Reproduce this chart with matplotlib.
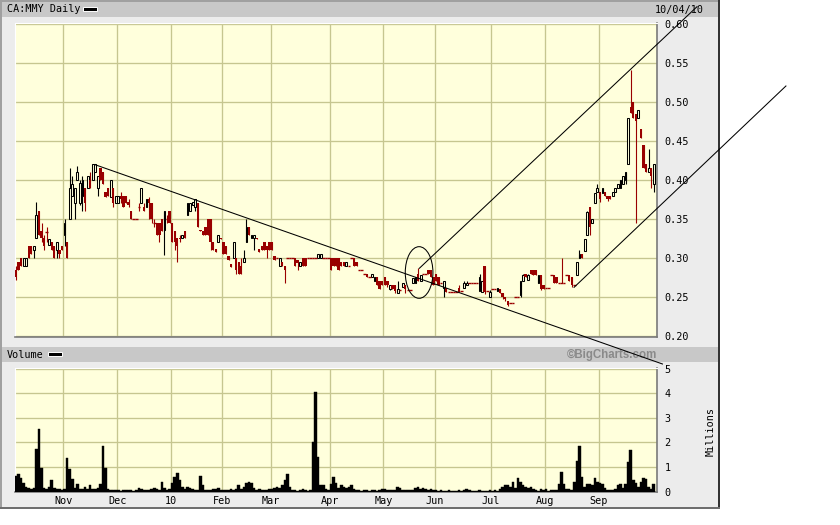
import numpy as np
import pandas as pd
import matplotlib
matplotlib.use('Agg')
import matplotlib.pyplot as plt
from matplotlib.patches import Rectangle, Ellipse

# TSX trading days shown on the chart
holidays = ['2009-10-12', '2009-12-25', '2009-12-28', '2010-01-01', '2010-02-15',
            '2010-04-02', '2010-05-24', '2010-07-01', '2010-08-02', '2010-09-06']
dates = pd.bdate_range('2009-10-05', '2010-10-01')
dates = dates[~dates.isin(pd.to_datetime(holidays))]

month_labels = ['Nov', 'Dec', '10', 'Feb', 'Mar', 'Apr', 'May', 'Jun', 'Jul', 'Aug', 'Sep']
price_ticks = [0.20, 0.25, 0.30, 0.35, 0.40, 0.45, 0.50, 0.55, 0.60]
vol_ticks = [0, 1, 2, 3, 4, 5]

# daily prices (CAD), one line per month
opens = [
    .285, .295, .30, .29, .29, .315, .315, .31, .325, .36, .335, .325, .333, .317, .32, .315, .31, .31, .315,
    .33, .32, .35, .38, .37, .40, .37, .38, .39, .39, .40, .40, .41, .39, .415, .41, .385, .39, .378, .39, .37,
    .37, .38, .38, .38, .372, .36, .35, .35, .365, .37, .365, .365, .375, .37, .345, .345, .345, .35, .336, .35, .36,
    .345, .335, .325, .326, .325, .335, .355, .36, .368, .365, .37, .336, .335, .34, .35, .35, .32, .312, .32, .326,
    .32, .315, .302, .292, .30, .30, .295, .29, .295, .32, .34, .325, .325, .326, .312, .315, .32, .315, .32,
    .32, .302, .30, .29, .295, .29, .30, .30, .30, .30, .297, .29, .30, .30, .30, .30, .30, .30, .30, .30, .30, .30, .30,
    .30, .30, .30, .30, .295, .295, .29, .29, .30, .30, .295, .285, .285, .28, .28, .275, .275, .27, .275, .27, .27,
    .275, .27, .26, .265, .265, .255, .259, .263, .265, .259, .259, .268, .268, .28, .27, .28, .28, .285, .285, .275,
    .28, .275, .268, .262, .262, .256, .256, .256, .256, .262, .258, .262, .265, .268, .268, .268, .268, .258, .256, .29, .258, .25,
    .26, .26, .258, .26, .255, .25, .245, .242, .242, .25, .25, .252, .27, .28, .272, .285, .285, .285, .268, .278, .265,
    .262, .262, .278, .278, .275, .268, .268, .268, .278, .278, .275, .265, .278, .30, .305, .309, .33, .365, .345, .37, .385,
    .385, .383, .385, .38, .38, .38, .385, .39, .39, .395, .40, .42, .494, .50, .485, .48, .465, .445, .42, .41, .415,
    .395,
]
highs = [
    .29, .295, .30, .30, .30, .315, .315, .315, .372, .36, .345, .33, .34, .324, .32, .315, .32, .31, .315,
    .35, .32, .415, .405, .39, .418, .40, .405, .39, .405, .41, .42, .42, .405, .415, .41, .385, .39, .40, .39, .38,
    .38, .385, .38, .38, .375, .36, .35, .35, .37, .39, .37, .375, .378, .37, .35, .345, .345, .35, .36, .355, .36,
    .345, .335, .325, .33, .33, .335, .37, .37, .372, .375, .37, .336, .335, .34, .35, .35, .32, .312, .33, .326,
    .32, .315, .302, .292, .32, .30, .295, .30, .31, .35, .34, .33, .33, .326, .312, .315, .32, .315, .32,
    .32, .302, .30, .30, .295, .29, .30, .30, .30, .30, .297, .295, .30, .30, .30, .30, .30, .30, .305, .305, .30, .30, .30,
    .30, .30, .30, .30, .295, .295, .295, .29, .30, .30, .295, .285, .285, .28, .28, .275, .28, .275, .275, .27, .27,
    .275, .27, .265, .265, .265, .27, .259, .268, .265, .259, .259, .274, .275, .287, .278, .28, .28, .285, .285, .275,
    .28, .275, .268, .27, .262, .256, .256, .256, .256, .265, .258, .27, .27, .268, .268, .268, .268, .28, .27, .29, .258, .259,
    .26, .26, .262, .26, .255, .25, .245, .242, .242, .25, .25, .27, .28, .28, .28, .285, .285, .285, .278, .278, .265,
    .262, .262, .278, .278, .275, .268, .30, .268, .278, .278, .275, .265, .295, .31, .305, .324, .36, .365, .35, .383, .395,
    .385, .39, .385, .38, .38, .385, .39, .395, .40, .405, .41, .48, .541, .50, .485, .49, .465, .445, .42, .44, .415,
    .42,
]
lows = [
    .272, .285, .29, .29, .29, .30, .305, .30, .325, .33, .32, .31, .32, .317, .31, .30, .30, .30, .31,
    .315, .30, .35, .38, .35, .40, .368, .36, .36, .39, .39, .40, .41, .38, .40, .395, .378, .38, .378, .365, .37,
    .37, .37, .365, .37, .365, .35, .35, .35, .36, .37, .36, .365, .35, .345, .34, .33, .32, .335, .304, .345, .345,
    .32, .31, .295, .32, .325, .325, .355, .36, .368, .36, .34, .334, .33, .33, .33, .31, .31, .308, .32, .324,
    .305, .305, .298, .288, .30, .28, .28, .28, .295, .32, .33, .325, .31, .324, .308, .31, .31, .30, .31,
    .31, .298, .30, .29, .29, .268, .30, .30, .30, .29, .285, .29, .29, .29, .30, .30, .30, .30, .30, .30, .30, .30, .30,
    .285, .29, .29, .285, .29, .29, .29, .29, .30, .29, .29, .285, .285, .28, .275, .275, .275, .27, .265, .26, .265,
    .265, .263, .259, .26, .255, .255, .259, .263, .255, .259, .259, .268, .268, .27, .27, .28, .28, .28, .275, .265,
    .27, .265, .268, .25, .256, .256, .256, .256, .256, .256, .258, .262, .265, .268, .268, .268, .268, .258, .256, .254, .258, .25,
    .26, .26, .258, .255, .248, .245, .238, .242, .242, .25, .25, .25, .27, .275, .272, .28, .278, .278, .268, .259, .26,
    .262, .262, .278, .268, .268, .268, .268, .268, .278, .27, .263, .265, .278, .30, .30, .309, .33, .33, .345, .37, .385,
    .372, .383, .38, .373, .375, .38, .385, .39, .39, .395, .395, .42, .486, .48, .345, .48, .454, .415, .41, .41, .39,
    .385,
]
closes = [
    .275, .285, .29, .30, .30, .30, .305, .315, .355, .33, .325, .315, .333, .324, .31, .30, .32, .305, .31,
    .345, .30, .39, .395, .39, .41, .396, .40, .37, .405, .39, .42, .42, .405, .40, .395, .378, .38, .40, .37, .38,
    .38, .375, .365, .37, .368, .35, .35, .35, .365, .39, .36, .375, .37, .35, .345, .33, .33, .335, .36, .35, .345,
    .32, .32, .315, .324, .33, .325, .37, .37, .372, .375, .34, .334, .33, .33, .33, .32, .31, .308, .33, .324,
    .305, .305, .298, .288, .32, .285, .28, .28, .30, .34, .33, .33, .33, .324, .308, .31, .31, .31, .31,
    .31, .298, .30, .30, .29, .285, .30, .30, .30, .29, .293, .295, .29, .29, .30, .30, .30, .30, .305, .305, .30, .30, .30,
    .285, .29, .29, .285, .29, .29, .295, .29, .30, .29, .29, .285, .285, .28, .275, .275, .28, .275, .265, .26, .265,
    .265, .265, .265, .26, .258, .26, .259, .268, .26, .259, .259, .274, .275, .27, .278, .28, .28, .28, .275, .265,
    .27, .265, .268, .27, .256, .256, .256, .256, .256, .256, .258, .268, .268, .268, .268, .268, .268, .275, .27, .256, .258, .256,
    .26, .26, .262, .255, .25, .248, .24, .242, .242, .25, .25, .27, .278, .275, .278, .28, .278, .278, .278, .26, .26,
    .262, .262, .278, .268, .268, .268, .268, .268, .278, .27, .265, .265, .295, .305, .30, .324, .359, .34, .35, .383, .39,
    .375, .39, .38, .375, .375, .385, .39, .395, .40, .405, .41, .48, .486, .48, .475, .49, .454, .415, .41, .415, .405,
    .42,
]
# daily volume, millions of shares
volume = [
    .65, .7, .55, .35, .2, .15, .1, .15, 1.75, 2.55, .95, .15, .1, .2, .45, .15, .1, .12, .08,
    .1, 1.37, .9, .5, .15, .3, .1, .12, .2, .1, .25, .12, .1, .15, .3, 1.85, .95, .1, .05, .05, .05,
    .05, .03, .05, .05, .08, .05, .03, .05, .15, .1, .05, .08, .05, .1, .15, .1, .08, .4, .15, .05, .1,
    .35, .6, .75, .45, .2, .1, .2, .15, .1, .05, .08, .65, .25, .05, .05, .05, .1, .1, .15, .08,
    .05, .05, .08, .1, .05, .1, .25, .1, .2, .35, .4, .35, .15, .05, .1, .05, .08, .05, .1,
    .1, .15, .2, .15, .25, .45, .7, .2, .05, .05, .03, .05, .1, .05, .03, .05, 2.0, 4.05, 1.4, .25, .25, .1, .05,
    .3, .6, .35, .15, .25, .2, .15, .2, .25, .1, .05, .05, .03, .05, .05, .03, .05, .05, .03, .05, .1,
    .1, .08, .05, .05, .05, .2, .15, .05, .05, .05, .05, .05, .15, .2, .1, .15, .1, .08, .1, .05,
    .05, .03, .05, .03, .02, .05, .03, .02, .03, .05, .03, .05, .1, .05, .03, .02, .03, .08, .03, .02, .03, .05,
    .02, .05, .03, .1, .2, .25, .25, .2, .4, .15, .55, .4, .25, .2, .15, .2, .1, .05, .03, .1, .05,
    .1, .03, .05, .05, .05, .3, .8, .3, .1, .1, .05, .4, 1.25, 1.85, .6, .2, .3, .3, .25, .55, .4,
    .35, .3, .15, .05, .05, .05, .1, .25, .3, .15, .3, 1.2, 1.7, .45, .35, .2, .4, .55, .5, .2, .1,
    .3,
]

# hand-drawn annotations (trading-day index, price)
down_line = ([30.9, 252.4], [0.4196, 0.1641])
upper_line = ([157.5, 265.9], [0.2868, 0.6222])
lower_line = ([217.9, 300.6], [0.2624, 0.5205])
circle_center = (157.4, 0.2814)
circle_size = (10.8, 0.0662)

W, H = 840, 525
BG = '#ffffdc'
GRID = '#c6c690'
RED = '#990000'
MONO = 'DejaVu Sans Mono'

fig = plt.figure(figsize=(W / 100, H / 100), dpi=100)
fig.patch.set_facecolor('white')


def frect(x0, y0, x1, y1, **kw):
    # rectangle given in image pixels (origin top-left)
    kw.setdefault('zorder', 0)
    fig.add_artist(Rectangle((x0 / W, 1 - y1 / H), (x1 - x0) / W, (y1 - y0) / H,
                             transform=fig.transFigure, **kw))


def ftext(x, y, s, **kw):
    kw.setdefault('zorder', 2)
    fig.text(x / W, 1 - y / H, s, **kw)


# frame and header bars
frect(0, 0, 720, 509, facecolor='#ececec', edgecolor='none')
frect(0, 0, 2, 509, facecolor='#a0a0a0', edgecolor='none')
frect(0, 0, 720, 2, facecolor='#a0a0a0', edgecolor='none')
frect(718, 0, 720, 509, facecolor='#333333', edgecolor='none')
frect(0, 507, 720, 509, facecolor='#6e6e6e', edgecolor='none')
frect(2, 2, 718, 17, facecolor='#c8c8c8', edgecolor='none')
frect(2, 347, 718, 362, facecolor='#c8c8c8', edgecolor='none')
frect(83, 6.5, 97, 11, facecolor='black', edgecolor='white', linewidth=0.7, zorder=0.5)
frect(48, 351.5, 62, 356, facecolor='black', edgecolor='white', linewidth=0.7, zorder=0.5)

ftext(7, 9.5, 'CA:MMY Daily', fontsize=7.3, family=MONO, va='center', ha='left')
ftext(704, 9.5, '10/04/10', fontsize=7.3, family=MONO, va='center', ha='right')
ftext(7, 354.5, 'Volume', fontsize=7.3, family=MONO, va='center', ha='left')
ftext(657, 354.5, '\u00a9BigCharts.com', fontsize=8.3, family='Liberation Sans',
      fontweight='bold', color='#8a8a8a', va='center', ha='right')
ftext(711, 432, 'Millions', fontsize=7.3, family=MONO, va='center', ha='center', rotation=90)

x = np.arange(len(closes))
o = np.array(opens)
h = np.array(highs)
l = np.array(lows)
c = np.array(closes)
v = np.array(volume)

month_pos = [i - 0.5 for i in range(1, len(dates)) if dates[i].month != dates[i - 1].month]
month_pos = month_pos[:len(month_labels)]
xlim = (-0.35, 250.27)

# price panel
ax = fig.add_axes([15 / W, 1 - 337 / H, 642 / W, 314.5 / H], zorder=3)
ax.set_facecolor(BG)
ax.set_xlim(*xlim)
ax.set_ylim(0.1987, 0.6019)

up = c > o
dn = c < o
fl = c == o
ax.vlines(x[up], l[up], h[up], color='black', linewidth=0.8, zorder=3)
ax.bar(x[up], (c - o)[up], bottom=o[up], width=0.72, facecolor=BG, edgecolor='black',
       linewidth=0.75, zorder=4)
ax.vlines(x[dn], l[dn], h[dn], color=RED, linewidth=0.8, zorder=3)
ax.bar(x[dn], (o - c)[dn], bottom=c[dn], width=0.92, color=RED, linewidth=0, zorder=4)
ax.vlines(x[fl], l[fl], h[fl], color=RED, linewidth=0.8, zorder=3)
ax.hlines(c[fl], x[fl] - 0.5, x[fl] + 0.5, color=RED, linewidth=1.0, zorder=4)

for xs, ys in (down_line, upper_line, lower_line):
    ax.plot(xs, ys, color='black', linewidth=0.75, clip_on=False, zorder=6)
ax.add_patch(Ellipse(circle_center, circle_size[0], circle_size[1], fill=False,
                     edgecolor='black', linewidth=0.75, zorder=6))

ax.set_xticks(month_pos)
ax.set_xticklabels([])
ax.set_yticks(price_ticks)
ax.set_yticklabels([f'{p:.2f}' for p in price_ticks], family=MONO, fontsize=7.3)
ax.yaxis.tick_right()
ax.tick_params(length=0, pad=5.5)
ax.grid(True, color=GRID, linewidth=0.95)
ax.set_axisbelow(True)
for side in ('left', 'top'):
    ax.spines[side].set_color('white')
    ax.spines[side].set_linewidth(0.8)
for side in ('right', 'bottom'):
    ax.spines[side].set_color('#7a7a7a')
    ax.spines[side].set_linewidth(1.2)

# volume panel
axv = fig.add_axes([15 / W, 1 - 492 / H, 642 / W, 124 / H], zorder=1)
axv.set_facecolor(BG)
axv.set_xlim(*xlim)
axv.set_ylim(-0.0204, 5.0408)
axv.bar(x, v, width=1.0, color='black', edgecolor='black', linewidth=0.3, zorder=3)
axv.set_xticks(month_pos)
axv.set_xticklabels(month_labels, family=MONO, fontsize=7.3)
axv.set_yticks(vol_ticks)
axv.set_yticklabels([str(t) for t in vol_ticks], family=MONO, fontsize=7.3)
axv.yaxis.tick_right()
axv.tick_params(length=0, pad=5.5)
axv.tick_params(axis='x', pad=3)
axv.grid(True, color=GRID, linewidth=0.95)
axv.set_axisbelow(True)
for side in ('left', 'top'):
    axv.spines[side].set_color('white')
    axv.spines[side].set_linewidth(0.8)
for side in ('right', 'bottom'):
    axv.spines[side].set_color('#7a7a7a')
    axv.spines[side].set_linewidth(1.2)

fig.savefig('out.png', dpi=100)
